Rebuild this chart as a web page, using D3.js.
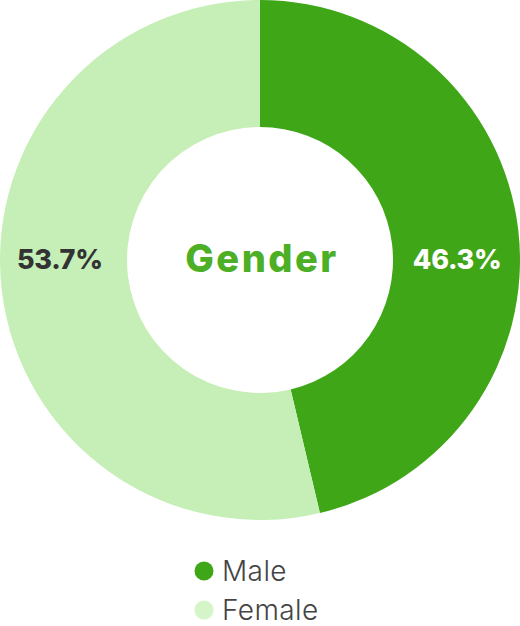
<!DOCTYPE html>
<html lang="en">
<head>
    <meta charset="UTF-8">
    <title>Gender</title>
    <script src="https://d3js.org/d3.v7.min.js"></script>
    <style>
        body {
            margin: 0;
            background: #fff;
        }
        svg {
            display: block;
        }
    </style>
</head>
<body>
<div id="chart"></div>
<script>
    const categories = ["Male", "Female"];
    const values = [46.3, 53.7];
    const sliceColors = ["#3fa618", "#c6efb8"];
    const legendColors = ["#3fa618", "#d3f5c7"];
    const labelColors = ["#ffffff", "#333333"];

    const width = 520, height = 626;
    const cx = 260, cy = 260;
    const outerR = 260, innerR = 133;

    const svg = d3.select("#chart")
        .append("svg")
        .attr("width", width)
        .attr("height", height);

    const g = svg.append("g")
        .attr("transform", `translate(${cx},${cy})`);

    const data = categories.map((c, i) => ({name: c, value: values[i], i: i}));

    const pie = d3.pie().value(d => d.value).sort(null);
    const arc = d3.arc().innerRadius(innerR).outerRadius(outerR);

    const arcs = pie(data);

    g.selectAll("path")
        .data(arcs)
        .enter()
        .append("path")
        .attr("d", arc)
        .attr("fill", d => sliceColors[d.data.i]);

    // percent labels: centroid x, kept on the horizontal midline
    g.selectAll("text.pct")
        .data(arcs)
        .enter()
        .append("text")
        .attr("class", "pct")
        .attr("x", d => arc.centroid(d)[0] + (d.data.i === 0 ? 2 : -5))
        .attr("y", 2)
        .attr("text-anchor", "middle")
        .attr("dominant-baseline", "middle")
        .style("font-family", "Inter, sans-serif")
        .style("font-weight", "800")
        .style("font-size", "27px")
        .style("letter-spacing", "-0.3px")
        .attr("fill", d => labelColors[d.data.i])
        .text(d => d.data.value.toFixed(1) + "%");

    g.append("text")
        .attr("x", 2)
        .attr("y", 2)
        .attr("text-anchor", "middle")
        .attr("dominant-baseline", "middle")
        .style("font-family", "Inter, sans-serif")
        .style("font-weight", "800")
        .style("font-size", "38px")
        .style("letter-spacing", "2.5px")
        .attr("fill", "#4caf25")
        .text("Gender");

    const legend = svg.append("g")
        .attr("transform", "translate(204,571)");

    const item = legend.selectAll("g")
        .data(data)
        .enter()
        .append("g")
        .attr("transform", (d, i) => `translate(0,${i * 39})`);

    item.append("circle")
        .attr("r", 9.5)
        .attr("fill", d => legendColors[d.i]);

    item.append("text")
        .attr("x", 18)
        .attr("y", 2)
        .attr("dominant-baseline", "middle")
        .style("font-family", "Inter, sans-serif")
        .style("font-weight", "300")
        .style("font-size", "28px")
        .style("letter-spacing", "0.4px")
        .attr("fill", "#444")
        .text(d => d.name);
</script>
</body>
</html>
